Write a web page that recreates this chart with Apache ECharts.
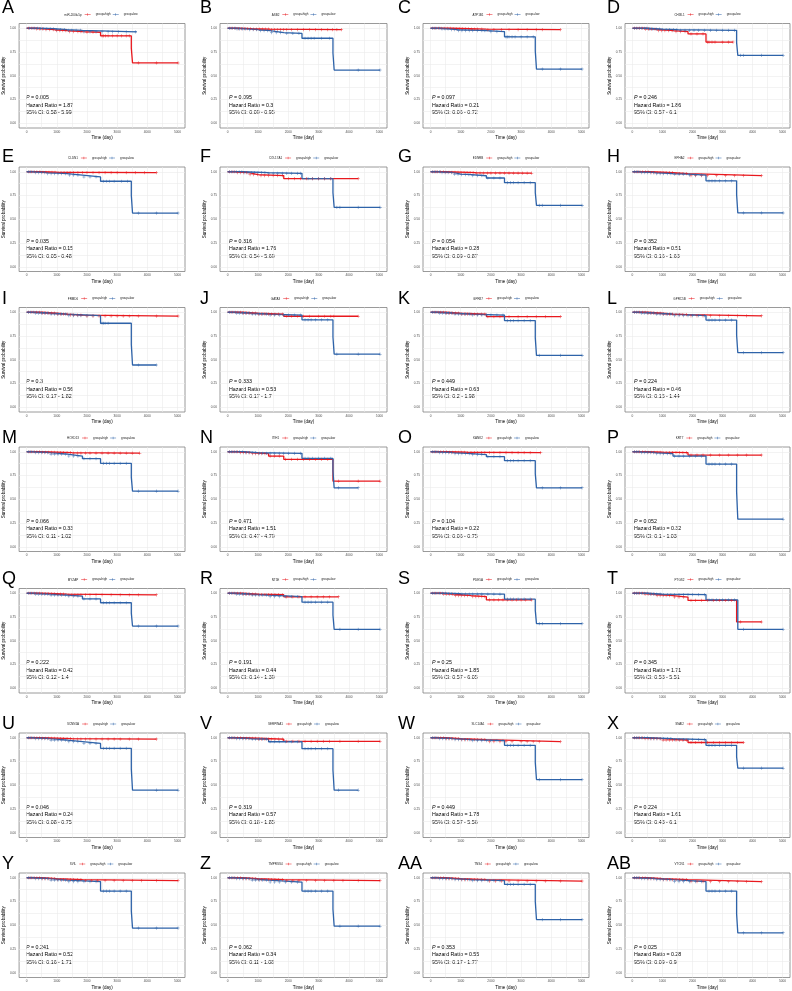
<!DOCTYPE html>
<html><head><meta charset="utf-8">
<script src="https://cdn.jsdelivr.net/npm/echarts@6/dist/echarts.min.js"></script>
<style>html,body{margin:0;padding:0;background:#fff}#c{width:792px;height:991px}</style>
</head><body><div id="c"></div>
<script>
const letters = ['A','B','C','D','E','F','G','H','I','J','K','L','M','N','O','P','Q','R','S','T','U','V','W','X','Y','Z','AA','AB'];
const genes = ['miR-200b-5p','ASB2','ATP1B1','CHI3L1','CLDN1','COL17A1','EDNRB','EPHA2','FRMD6','GATA3','GPR87','GPRC5B','HOXD13','ITIH1','KANK2','KRT7','MYZAP','NT5E','PDE5A','PTGS2','SCNN1A','SERPINA1','SLC14A1','SNAI2','SVIL','TMPRSS4','TNS4','VTCN1'];
const pValues = ['0.005','0.095','0.097','0.246','0.035','0.316','0.054','0.352','0.3','0.333','0.449','0.224','0.066','0.471','0.104','0.052','0.222','0.191','0.25','0.345','0.046','0.319','0.449','0.224','0.241','0.062','0.353','0.025'];
const hazardRatios = ['1.87','0.3','0.21','1.86','0.15','1.76','0.28','0.51','0.56','0.53','0.63','0.46','0.33','1.51','0.22','0.32','0.42','0.44','1.85','1.71','0.24','0.57','1.78','1.61','0.52','0.34','0.55','0.28'];
const ciLower = ['0.58','0.09','0.06','0.57','0.05','0.54','0.09','0.16','0.17','0.17','0.2','0.15','0.11','0.47','0.06','0.1','0.12','0.14','0.57','0.53','0.08','0.18','0.57','0.43','0.16','0.11','0.17','0.09'];
const ciUpper = ['5.99','0.95','0.72','6.1','0.48','5.69','0.87','1.63','1.82','1.7','1.98','1.44','1.02','4.79','0.75','1.03','1.4','1.39','6.05','5.51','0.75','1.85','5.56','6.1','1.71','1.08','1.77','0.9'];
const xTickLabels = [0,1000,2000,3000,4000,5000];
const xGridValues = [0,500,1000,1500,2000,2500,3000,3500,4000,4500,5000];
const yTickLabels = [0,0.25,0.5,0.75,1];
const yGridValues = [0,0.125,0.25,0.375,0.5,0.625,0.75,0.875,1];

// group=high : steps [time, survival after event], end time, censor times
const highSteps = [
 [[0,1],[300,0.993],[600,0.985],[900,0.975],[1350,0.965],[1850,0.958],[2450,0.92],[3470,0.79],[3510,0.635]],
 [[0,1],[350,0.995],[800,0.99],[1400,0.985]],
 [[0,1],[700,0.995],[1300,0.99],[1850,0.985]],
 [[0,1],[400,0.99],[800,0.975],[1350,0.965],[1850,0.94],[2450,0.855]],
 [[0,1],[500,0.995],[1000,0.99]],
 [[0,1],[300,0.99],[700,0.97],[1000,0.96],[1850,0.927]],
 [[0,1],[500,0.995],[1000,0.99],[1500,0.985]],
 [[0,1],[600,0.99],[1350,0.98],[1850,0.96]],
 [[0,1],[500,0.99],[1000,0.98],[1350,0.97],[1850,0.96]],
 [[0,1],[500,0.99],[1000,0.98],[1850,0.958]],
 [[0,1],[500,0.99],[1000,0.98],[1850,0.954]],
 [[0,1],[500,0.99],[1000,0.98],[1350,0.975],[1850,0.962]],
 [[0,1],[500,0.995],[1000,0.99],[1500,0.985]],
 [[0,1],[400,0.99],[800,0.98],[1350,0.955],[1850,0.92],[3470,0.69]],
 [[0,1],[600,0.995],[1200,0.99]],
 [[0,1],[500,0.995],[1000,0.99],[1850,0.965]],
 [[0,1],[500,0.995],[1000,0.99],[1350,0.983]],
 [[0,1],[500,0.99],[1000,0.985],[1850,0.962]],
 [[0,1],[400,0.99],[800,0.975],[1350,0.965],[1850,0.93]],
 [[0,1],[400,0.99],[800,0.975],[1350,0.96],[1850,0.924],[3470,0.698]],
 [[0,1],[500,0.995],[1000,0.99],[1500,0.986]],
 [[0,1],[500,0.995],[1000,0.985],[1850,0.962]],
 [[0,1],[500,0.99],[1000,0.98],[1850,0.96]],
 [[0,1],[400,0.99],[1000,0.975],[1850,0.95]],
 [[0,1],[500,0.99],[1000,0.98],[1850,0.97]],
 [[0,1],[500,0.99],[1000,0.98],[1850,0.97]],
 [[0,1],[500,0.99],[1000,0.98],[1850,0.965]],
 [[0,1],[500,0.99],[1000,0.98],[1850,0.96]]
];
const highEnd = [5020,3750,4300,3350,4300,4300,3350,4300,5020,4300,4300,4300,3750,5020,3650,4300,4300,3650,3350,4300,4300,5020,4300,3700,5020,5020,5020,4300];
const highCensor = [
 [70,150,240,330,420,520,640,760,880,990,1100,1200,1300,1420,1550,1700,1800,2000,2200,2500,2550,2620,2700,2850,3000,3150,3300,3400,3700,4300,5020],
 [80,160,250,350,450,550,650,750,850,950,1050,1150,1250,1350,1450,1550,1650,1750,1850,1950,2100,2300,2500,2700,2900,3100,3300,3450,3600,3750],
 [80,170,260,350,450,550,650,750,850,950,1050,1150,1250,1350,1450,1550,1700,1900,2100,2350,2600,2900,3200,3500,3700,4300],
 [70,150,240,330,430,530,640,750,860,970,1080,1200,1320,1450,1600,1750,1950,2150,2350,2500,2550,2650,2750,3000,3200,3350],
 [80,160,250,340,440,540,640,740,840,940,1040,1140,1240,1340,1440,1550,1700,1850,2000,2200,2400,2600,2800,3000,3300,3600,3900,4300],
 [70,150,240,330,420,520,620,740,860,980,1100,1220,1350,1500,1650,1800,2000,2200,2400,2600,2800,3000,3200,3400,4300],
 [80,160,240,330,420,510,610,710,810,910,1010,1110,1210,1310,1410,1520,1640,1760,1880,2000,2150,2300,2450,2600,2750,2900,3050,3200,3350],
 [80,160,250,340,430,520,620,720,820,920,1020,1120,1230,1340,1450,1560,1680,1800,1950,2100,2300,2500,2800,3100,3400,3700,4300],
 [70,150,240,330,420,520,620,720,820,920,1020,1120,1230,1340,1450,1560,1680,1800,2000,2200,2400,2600,2800,3000,3200,3400,3700,4300,5020],
 [80,160,250,340,430,520,620,720,820,920,1020,1120,1230,1340,1450,1560,1680,1800,1950,2100,2300,2500,2700,3000,3200,3400,3500,4300],
 [80,160,250,340,430,520,620,720,820,920,1020,1120,1230,1340,1450,1560,1680,1800,1900,2100,2300,2600,2900,3200,3500,3800,4300],
 [70,150,240,330,420,520,620,720,820,920,1020,1120,1230,1340,1450,1560,1680,1800,1950,2150,2350,2600,2900,3200,3500,3800,4300],
 [80,160,250,340,430,520,620,720,820,920,1020,1120,1230,1340,1450,1560,1680,1800,1950,2100,2300,2500,2700,2900,3100,3300,3500,3750],
 [70,150,240,330,420,520,620,720,820,920,1020,1120,1230,1400,1550,1700,1900,2100,2300,2500,2700,2900,3100,3300,3650,4300,5020],
 [80,160,250,340,430,520,620,720,820,920,1020,1120,1230,1340,1450,1560,1680,1800,1950,2100,2300,2500,2700,2900,3100,3300,3650],
 [70,150,240,330,420,520,620,720,820,920,1020,1120,1230,1340,1450,1560,1680,1800,1950,2150,2350,2600,2900,3200,3500,3800,4300],
 [80,160,250,340,430,520,620,720,820,920,1020,1120,1230,1400,1500,1600,1700,1800,1950,2100,2300,2500,2800,3100,3400,3700,4300],
 [70,150,240,330,420,520,620,720,820,920,1020,1120,1230,1340,1450,1560,1680,1800,1950,2150,2350,2550,2750,2950,3150,3350,3650],
 [80,160,250,340,430,520,620,720,820,920,1020,1120,1230,1400,1500,1600,1700,1800,1950,2100,2250,2400,2550,2700,2850,3000,3150,3350],
 [70,150,240,330,420,520,620,720,820,920,1020,1120,1230,1400,1550,1700,1950,2100,2300,2500,2700,2900,3100,3300,3600,4300],
 [80,160,250,340,430,520,620,720,820,920,1020,1120,1230,1340,1450,1560,1680,1800,1950,2100,2300,2500,2700,2900,3100,3400,3700,4300],
 [70,150,240,330,420,520,620,720,820,920,1020,1120,1230,1340,1450,1560,1680,1800,1950,2150,2350,2550,2750,2950,3150,3350,3700,4300,5020],
 [80,160,250,340,430,520,620,720,820,920,1020,1120,1230,1340,1450,1560,1680,1800,1950,2100,2300,2500,2700,3000,3200,3400,3600,4300],
 [70,150,240,330,420,520,620,720,820,920,1020,1120,1230,1340,1450,1560,1680,1800,1950,2100,2300,2500,2700,2900,3100,3300,3500,3700],
 [80,160,250,340,430,520,620,720,820,920,1020,1120,1230,1340,1450,1560,1680,1800,1950,2150,2350,2600,2900,3200,3500,3800,4300,5020],
 [70,150,240,330,420,520,620,720,820,920,1020,1120,1230,1340,1450,1560,1680,1800,1950,2150,2350,2600,2900,3200,3500,3800,4300,5020],
 [80,160,250,340,430,520,620,720,820,920,1020,1120,1230,1340,1450,1560,1680,1800,1950,2150,2350,2600,2900,3200,3500,3800,4300,5020],
 [70,150,240,330,420,520,620,720,820,920,1020,1120,1230,1340,1450,1560,1680,1800,1950,2150,2350,2600,2900,3200,3500,3800,4300]
];
// group=low
const lowSteps = [
 [[0,1],[400,0.995],[900,0.985],[1350,0.978],[1850,0.962]],
 [[0,1],[300,0.993],[700,0.985],[1000,0.975],[1400,0.955],[1850,0.945],[2450,0.895],[3470,0.74],[3510,0.56]],
 [[0,1],[300,0.993],[600,0.985],[900,0.975],[1850,0.965],[2450,0.91],[3470,0.76],[3510,0.57]],
 [[0,1],[500,0.99],[1000,0.985],[1500,0.978],[3470,0.85],[3510,0.715]],
 [[0,1],[300,0.99],[700,0.98],[1350,0.965],[1850,0.945],[2450,0.9],[3470,0.75],[3510,0.565]],
 [[0,1],[500,0.99],[1350,0.983],[2450,0.927],[3470,0.78],[3510,0.625]],
 [[0,1],[300,0.99],[800,0.975],[1000,0.97],[1350,0.958],[1850,0.934],[2450,0.885],[3470,0.78],[3510,0.646]],
 [[0,1],[300,0.99],[800,0.98],[1350,0.975],[1850,0.965],[2450,0.905],[3470,0.76],[3510,0.567]],
 [[0,1],[300,0.99],[800,0.98],[1350,0.965],[2450,0.884],[3470,0.66],[3510,0.445]],
 [[0,1],[300,0.99],[800,0.98],[1350,0.97],[2450,0.92],[3470,0.74],[3510,0.559]],
 [[0,1],[300,0.99],[800,0.98],[1350,0.97],[2450,0.912],[3470,0.73],[3510,0.546]],
 [[0,1],[300,0.99],[800,0.98],[1350,0.965],[2450,0.918],[3470,0.76],[3510,0.574]],
 [[0,1],[300,0.99],[800,0.975],[1350,0.955],[1850,0.927],[2450,0.878],[3470,0.73],[3510,0.585]],
 [[0,1],[500,0.99],[1000,0.983],[2450,0.93],[3470,0.80],[3510,0.62]],
 [[0,1],[300,0.99],[800,0.98],[1350,0.97],[1850,0.948],[2450,0.906],[3470,0.77],[3510,0.62]],
 [[0,1],[300,0.99],[800,0.98],[1350,0.955],[2450,0.87],[3470,0.58],[3510,0.29]],
 [[0,1],[300,0.99],[800,0.98],[1350,0.97],[1850,0.94],[2450,0.90],[3470,0.79],[3510,0.655]],
 [[0,1],[300,0.99],[800,0.98],[1350,0.965],[2450,0.906],[3470,0.77],[3510,0.62]],
 [[0,1],[500,0.995],[1000,0.99],[2450,0.938],[3470,0.82],[3510,0.68]],
 [[0,1],[500,0.99],[1000,0.985],[2450,0.93],[3510,0.62]],
 [[0,1],[300,0.99],[800,0.975],[1350,0.96],[1850,0.94],[2450,0.889],[3470,0.67],[3510,0.448]],
 [[0,1],[300,0.99],[800,0.985],[1350,0.958],[2450,0.885],[3470,0.66],[3510,0.448]],
 [[0,1],[300,0.99],[800,0.98],[1350,0.97],[2450,0.92],[3470,0.74],[3510,0.56]],
 [[0,1],[500,0.99],[1350,0.98],[2450,0.92],[3470,0.80],[3510,0.68]],
 [[0,1],[300,0.99],[800,0.975],[1350,0.96],[2450,0.86],[3470,0.65],[3510,0.47]],
 [[0,1],[300,0.99],[800,0.975],[1350,0.955],[2450,0.86],[3470,0.67],[3510,0.49]],
 [[0,1],[300,0.99],[800,0.98],[1350,0.97],[2450,0.93],[3470,0.75],[3510,0.56]],
 [[0,1],[300,0.99],[800,0.98],[1350,0.96],[2450,0.86],[3470,0.62],[3510,0.42]]
];
const lowEnd = [3650,5020,5020,5020,5020,5020,5020,5020,4300,5020,5020,5020,5020,4300,5020,5020,5020,5020,5020,5020,5020,4300,5020,5020,5020,5020,5020,5020];
const lowCensor = [
 [90,180,270,360,460,560,670,780,890,1000,1120,1250,1380,1500,1640,1780,1900,2100,2300,2500,2700,2850,3050,3300,3600],
 [70,140,220,310,400,500,600,720,840,960,1080,1200,1320,1450,1600,1750,1950,2150,2350,2550,2650,2750,2850,3100,3350,4300,5020],
 [60,130,210,290,380,480,580,690,800,920,1040,1160,1280,1400,1550,1700,1800,2000,2200,2500,2550,2600,2700,2800,3000,3200,3400,3700,4300,5020],
 [60,140,220,300,390,480,580,680,790,900,1010,1120,1240,1360,1480,1600,1750,1900,2050,2200,2400,2600,2800,3000,3200,3400,3600,3700,4300,5020],
 [60,130,210,300,390,490,590,700,810,920,1040,1160,1280,1420,1560,1700,1900,2100,2300,2550,2650,2750,2900,3150,3350,3700,4300,5020],
 [60,130,210,290,380,470,570,670,780,890,1000,1110,1230,1360,1500,1650,1800,1950,2100,2300,2400,2650,2800,3000,3200,3400,3600,3700,4300,5020],
 [60,130,210,290,380,480,580,690,800,910,1030,1150,1270,1400,1550,1700,1900,2100,2300,2550,2650,2750,2900,3100,3300,3600,3700,4300,5020],
 [60,130,210,300,390,490,590,700,810,920,1040,1160,1280,1400,1550,1700,1900,2100,2300,2550,2650,2750,2900,3100,3300,3700,4300,5020],
 [60,130,210,300,390,490,590,700,810,920,1040,1160,1280,1400,1550,1700,1800,2000,2200,2500,2550,2600,2700,3700,4300],
 [60,130,210,300,390,490,590,700,810,920,1040,1160,1280,1400,1550,1700,1850,2000,2200,2400,2550,2650,2750,2900,3100,3300,3600,4300,5020],
 [60,130,210,300,390,490,590,700,810,920,1040,1160,1280,1400,1550,1700,1850,2000,2200,2400,2550,2650,2750,2900,3100,3300,3600,4300,5020],
 [60,130,210,300,390,490,590,700,810,920,1040,1160,1280,1400,1550,1700,1850,2000,2200,2400,2550,2650,2750,2900,3100,3300,3700,4300,5020],
 [60,130,210,300,390,490,590,700,810,920,1040,1160,1280,1400,1550,1700,1900,2100,2300,2550,2650,2750,2900,3100,3300,3700,4300,5020],
 [60,130,210,300,390,490,590,700,810,920,1040,1160,1280,1400,1550,1700,1850,2000,2200,2400,2550,2650,2800,3000,3200,3400,3650,4300],
 [60,130,210,300,390,490,590,700,810,920,1040,1160,1280,1400,1550,1700,1900,2100,2300,2550,2650,2750,2900,3100,3300,3700,4300,5020],
 [60,130,210,300,390,490,590,700,810,920,1040,1160,1280,1400,1550,1700,1900,2100,2300,2550,2650,2750,2900,3100,3300,5020],
 [60,130,210,300,390,490,590,700,810,920,1040,1160,1280,1400,1550,1700,1900,2100,2300,2550,2650,2750,2900,3100,3300,3700,4300,5020],
 [60,130,210,300,390,490,590,700,810,920,1040,1160,1280,1400,1550,1700,1900,2100,2300,2550,2650,2750,2900,3100,3300,3700,4300,5020],
 [60,130,210,300,390,490,590,700,810,920,1040,1160,1280,1400,1550,1700,1900,2100,2300,2550,2650,2750,2900,3100,3300,3600,3700,4300,5020],
 [60,130,210,300,390,490,590,700,810,920,1040,1160,1280,1400,1550,1700,1850,2000,2200,2400,2550,2650,2800,3000,3200,3400,3700,5020],
 [60,130,210,300,390,490,590,700,810,920,1040,1160,1280,1400,1550,1700,1900,2100,2300,2550,2650,2750,2900,3100,3300,4300,5020],
 [60,130,210,300,390,490,590,700,810,920,1040,1160,1280,1400,1550,1700,1900,2100,2300,2550,2650,2750,2900,3100,3300,3650,4300],
 [60,130,210,300,390,490,590,700,810,920,1040,1160,1280,1400,1550,1700,1850,2000,2200,2400,2550,2650,2750,2900,3100,3300,3600,4300,5020],
 [60,130,210,300,390,490,590,700,810,920,1040,1160,1280,1400,1550,1700,1850,2000,2200,2400,2550,2650,2750,2900,3100,3300,3700,4300,5020],
 [60,130,210,300,390,490,590,700,810,920,1040,1160,1280,1400,1550,1700,1900,2100,2300,2550,2650,2750,2900,3100,3300,3700,4300,5020],
 [60,130,210,300,390,490,590,700,810,920,1040,1160,1280,1400,1550,1700,1900,2100,2300,2550,2650,2750,2900,3100,3300,3700,4300,5020],
 [60,130,210,300,390,490,590,700,810,920,1040,1160,1280,1400,1550,1700,1900,2100,2300,2550,2650,2750,2900,3100,3300,3700,4300,5020],
 [60,130,210,300,390,490,590,700,810,920,1040,1160,1280,1400,1550,1700,1900,2100,2300,2550,2650,2750,2900,3100,3300,3700,4300,5020]
];

const RED = '#E8191E', BLUE = '#2E63A9';
const FONT = "'Liberation Sans', Arial, Helvetica, sans-serif";
const colLeft = [17,220,423,625], colWidth = [168,167,166,165];
const rowBoxTop = [23.5,167,307.5,447,588.5,733,873];
const boxH = 104.5;
const letterX = [2,200,398,607];
const letterCY = [8.5,157,299,438.5,579,724,864];
const PLUS = 'path://M4.2,0h1.6v10h-1.6zM0,4.2h10v1.6h-10z';
const LEG_ICON = 'path://M0,4.3h20v1.4h-20zM9.2,0.5h1.6v9h-1.6z';

function stepValue(steps, t){ let v = steps[0][1]; for (const p of steps){ if (p[0] <= t) v = p[1]; else break; } return v; }
const mctx = document.createElement('canvas').getContext('2d');
function tw(text, size){ mctx.font = size + 'px ' + FONT; return mctx.measureText(text).width; }

const grids = [], xAxes = [], yAxes = [], series = [], legends = [], graphics = [];
for (let i = 0; i < 28; i++) {
  const r = Math.floor(i / 4), c = i % 4;
  const left = colLeft[c], top = rowBoxTop[r], w = colWidth[c];
  grids.push({left: left, top: top, width: w, height: boxH, show: true, borderColor: '#808080', borderWidth: 0.8, backgroundColor: '#fff'});
  xAxes.push({gridIndex: i, type: 'value', min: -250, max: 5250,
    axisLine: {show: false}, axisTick: {show: false, customValues: xGridValues},
    splitLine: {show: true, lineStyle: {color: '#ebebeb', width: 0.6}},
    axisLabel: {customValues: xTickLabels, fontSize: 3.2, color: '#4d4d4d', margin: 2.5, fontFamily: FONT, formatter: v => String(Math.round(v))},
    name: 'Time (day)', nameLocation: 'middle', nameGap: 7.5,
    nameTextStyle: {fontSize: 4.5, color: '#000', fontFamily: FONT}});
  yAxes.push({gridIndex: i, type: 'value', min: -0.05, max: 1.05,
    axisLine: {show: false}, axisTick: {show: false, customValues: yGridValues},
    splitLine: {show: true, lineStyle: {color: '#ebebeb', width: 0.6}},
    axisLabel: {customValues: yTickLabels, fontSize: 3.2, color: '#4d4d4d', margin: 3, fontFamily: FONT, formatter: v => Number(v).toFixed(2)},
    name: 'Survival probability', nameLocation: 'middle', nameGap: 11,
    nameTextStyle: {fontSize: 4.5, color: '#000', fontFamily: FONT}});
  const groups = [
    {name: 'group=high', color: RED, steps: highSteps[i], end: highEnd[i], cens: highCensor[i]},
    {name: 'group=low', color: BLUE, steps: lowSteps[i], end: lowEnd[i], cens: lowCensor[i]}
  ];
  groups.forEach(g => {
    const lineData = g.steps.concat([[g.end, g.steps[g.steps.length - 1][1]]]);
    series.push({type: 'line', name: g.name, xAxisIndex: i, yAxisIndex: i, step: 'end', data: lineData,
      showSymbol: false, color: g.color, itemStyle: {color: g.color}, lineStyle: {color: g.color, width: 1.3}, silent: true, z: 3});
    series.push({type: 'scatter', name: g.name, xAxisIndex: i, yAxisIndex: i,
      data: g.cens.map(t => [t, stepValue(g.steps, t)]), symbol: PLUS, symbolSize: 3.2,
      color: g.color, itemStyle: {color: g.color}, silent: true, z: 4});
  });
  const lf = 3, iw = 6, gap = 2;
  const wGene = tw(genes[i], lf);
  const wItems = iw + 5 + tw('group=high', lf) + gap + iw + 5 + tw('group=low', lf);
  const total = wGene + 3 + wItems;
  const start = left + w / 2 - total / 2;
  const legY = top - 8.5;
  graphics.push({type: 'text', x: start, y: legY, style: {text: genes[i], fontSize: lf, fontFamily: FONT, fill: '#222', align: 'left', verticalAlign: 'middle'}});
  legends.push({left: start + wGene + 3, top: legY - 2, orient: 'horizontal', padding: 0, itemGap: gap, itemWidth: iw, itemHeight: 3,
    selectedMode: false, textStyle: {fontSize: lf, fontFamily: FONT, color: '#222', padding: 0},
    data: [{name: 'group=high', icon: LEG_ICON}, {name: 'group=low', icon: LEG_ICON}]});
  graphics.push({type: 'text', x: letterX[c], y: letterCY[r], style: {text: letters[i], fontSize: 18, fontFamily: FONT, fill: '#000', align: 'left', verticalAlign: 'middle'}});
  const sx = left + 9, fs = 5.3;
  graphics.push({type: 'text', x: sx, y: top + 74.5, style: {text: '{i|P} = ' + pValues[i], rich: {i: {fontStyle: 'italic', fontSize: fs, fontFamily: FONT, fill: '#000'}}, fontSize: fs, fontFamily: FONT, fill: '#000', align: 'left', verticalAlign: 'middle'}});
  graphics.push({type: 'text', x: sx, y: top + 82, style: {text: 'Hazard Ratio = ' + hazardRatios[i], fontSize: fs, fontFamily: FONT, fill: '#000', align: 'left', verticalAlign: 'middle'}});
  graphics.push({type: 'text', x: sx, y: top + 89.5, style: {text: '95% CI: ' + ciLower[i] + ' - ' + ciUpper[i], fontSize: fs, fontFamily: FONT, fill: '#000', align: 'left', verticalAlign: 'middle'}});
}

const chart = echarts.init(document.getElementById('c'), null, {renderer: 'canvas'});
chart.setOption({
  animation: false,
  backgroundColor: '#fff',
  grid: grids, xAxis: xAxes, yAxis: yAxes, series: series, legend: legends,
  graphic: {elements: graphics}
});
</script></body></html>
